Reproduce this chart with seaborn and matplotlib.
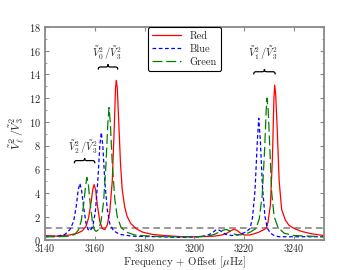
import numpy as np
import pandas as pd
import matplotlib
matplotlib.use("Agg")
import matplotlib.pyplot as plt
import seaborn as sns
from matplotlib.path import Path
from matplotlib.patches import PathPatch
from matplotlib.ticker import MultipleLocator

## curves (frequency + offset in muHz, ratio)
red_f = [3140, 3145, 3150, 3153, 3155, 3156.5, 3157.5, 3158.5, 3159.2, 3159.7, 3160.3, 3161, 3162, 3163, 3164,
         3165, 3166, 3167, 3167.8, 3168.3, 3168.6, 3169, 3169.6, 3170.3, 3171, 3172, 3173, 3174.5, 3176.5,
         3179, 3183, 3188, 3195, 3202, 3208, 3211, 3213, 3214.5, 3215.8, 3217, 3218.5, 3220, 3222, 3224,
         3226, 3228.7, 3229.5, 3230.5, 3231.3, 3231.9, 3232.2, 3232.6, 3233.2, 3234, 3235, 3236.5, 3238,
         3240, 3243, 3247, 3252]
red_v = [0.4, 0.35, 0.45, 0.6, 0.8, 1.2, 1.9, 3.2, 4.3, 4.7, 4.3, 3.0, 1.6, 1.0, 0.9,
         1.3, 2.4, 5.0, 9.5, 12.8, 13.5, 12.9, 10.0, 6.5, 4.3, 2.8, 2.0, 1.4, 1.0,
         0.7, 0.5, 0.4, 0.3, 0.3, 0.35, 0.45, 0.6, 0.8, 0.92, 0.85, 0.6, 0.45, 0.45, 0.55,
         0.7, 1.0, 1.5, 3.0, 7.0, 12.0, 13.1, 12.3, 9.5, 5.0, 2.6, 1.7, 1.25,
         1.0, 0.75, 0.55, 0.4]

blue_f = [3140, 3145, 3148, 3150, 3151.5, 3152.5, 3153.3, 3154, 3154.7, 3155.5, 3156.5, 3157.3, 3158.2,
          3159.2, 3160.2, 3161.2, 3162, 3162.6, 3163.2, 3164, 3165, 3166, 3167.5, 3170, 3175, 3185, 3195,
          3202, 3205, 3207, 3208.5, 3209.5, 3210.8, 3212.5, 3215, 3217, 3219, 3221, 3222.3, 3223.3,
          3224.3, 3225.2, 3225.8, 3226.4, 3227.3, 3228.3, 3229.3, 3230.5, 3232, 3234, 3238, 3245, 3252]
blue_v = [0.3, 0.35, 0.5, 0.9, 1.6, 2.8, 4.2, 4.8, 4.2, 2.8, 1.4, 0.9, 0.8,
          1.2, 2.4, 5.0, 8.0, 9.1, 8.0, 5.0, 2.6, 1.4, 0.8, 0.5, 0.35, 0.3, 0.25,
          0.3, 0.4, 0.6, 0.85, 0.9, 0.75, 0.5, 0.4, 0.45, 0.55, 0.75, 1.0, 1.9,
          4.2, 8.2, 10.3, 8.6, 4.5, 2.0, 1.0, 0.6, 0.4, 0.3, 0.3, 0.3, 0.3]

green_f = [3140, 3145, 3150, 3152, 3153.5, 3154.5, 3155.5, 3156.3, 3156.8, 3157.4, 3158.2, 3159, 3159.8,
           3160.5, 3161.5, 3162.5, 3163.5, 3164.5, 3165.2, 3165.7, 3166.2, 3167, 3168, 3169, 3170.5,
           3172.5, 3176, 3182, 3190, 3200, 3205, 3208, 3210, 3211.5, 3212.8, 3214, 3215.5, 3217.5, 3220,
           3222.5, 3224.7, 3226, 3227.2, 3228.2, 3228.8, 3229.1, 3229.6, 3230.3, 3231, 3232, 3233.5,
           3236, 3240, 3246, 3252]
green_v = [0.3, 0.3, 0.35, 0.5, 0.9, 1.6, 3.0, 4.6, 5.3, 4.7, 3.0, 1.6, 0.9,
           0.75, 0.9, 1.6, 3.2, 6.5, 9.8, 11.2, 10.0, 6.5, 3.5, 2.0, 1.1,
           0.7, 0.45, 0.35, 0.3, 0.3, 0.35, 0.5, 0.7, 0.85, 0.92, 0.8, 0.55, 0.45, 0.5,
           0.7, 1.0, 1.8, 3.8, 7.8, 11.0, 12.0, 11.0, 7.5, 4.0, 2.0, 1.1,
           0.6, 0.4, 0.35, 0.3]

labels = ['Red', 'Blue', 'Green']
colors = ['r', 'b', 'g']
styles = ['-', (0, (3, 2)), (0, (8, 3))]

sns.set_style('ticks')
plt.rcParams['font.family'] = ['cmr10', 'DejaVu Serif']
plt.rcParams['mathtext.fontset'] = 'cm'
plt.rcParams['axes.formatter.use_mathtext'] = True

fig = plt.figure(figsize=(3.6, 2.7), dpi=100)
ax = fig.add_axes([0.125, 0.11, 0.775, 0.79])

for f, v, lab, c, ls in zip([red_f, blue_f, green_f], [red_v, blue_v, green_v], labels, colors, styles):
    df = pd.DataFrame({'freq': f, 'ratio': v})
    sns.lineplot(data=df, x='freq', y='ratio', color=c, linestyle=ls, lw=0.9, label=lab,
                 ax=ax, estimator=None, sort=False)

ax.axhline(1.0, color='#888888', ls=(0, (4, 2.5)), lw=1.2, zorder=0)

def brace(ax, x0, x1, y, h):
    w = x1 - x0
    verts = [(0, 0), (0, .5), (.05, .5), (.15, .5), (.35, .5),
             (.45, .5), (.5, .5), (.5, 1), (.5, .5), (.55, .5), (.65, .5),
             (.85, .5), (.95, .5), (1, .5), (1, 0)]
    verts = [(x0 + a * w, y + b * h) for a, b in verts]
    codes = [Path.MOVETO, Path.CURVE4, Path.CURVE4, Path.CURVE4, Path.LINETO,
             Path.CURVE4, Path.CURVE4, Path.CURVE4, Path.CURVE4, Path.CURVE4, Path.CURVE4,
             Path.LINETO, Path.CURVE4, Path.CURVE4, Path.CURVE4]
    ax.add_patch(PathPatch(Path(verts, codes), fill=False, lw=0.9, color='k'))

brace(ax, 3161.4, 3169.2, 14.4, 0.45)
brace(ax, 3223.8, 3232.4, 14.0, 0.45)
brace(ax, 3151.8, 3160.0, 6.5, 0.45)
ax.text(3164.8, 15.8, r'$\tilde{V}_0^2\,/\tilde{V}_3^2$', ha='center', va='center', fontsize=7.5)
ax.text(3227.5, 15.8, r'$\tilde{V}_1^2\,/\tilde{V}_3^2$', ha='center', va='center', fontsize=7.5)
ax.text(3155.3, 7.9, r'$\tilde{V}_2^2\,/\tilde{V}_3^2$', ha='center', va='center', fontsize=7.5)

ax.set_xlim(3140, 3252)
ax.set_ylim(0, 18)
ax.xaxis.set_major_locator(MultipleLocator(20))
ax.yaxis.set_major_locator(MultipleLocator(2))
ax.yaxis.set_minor_locator(MultipleLocator(1))
ax.set_xlabel(r'Frequency + Offset [$\mu$Hz]', fontsize=7.8, labelpad=0)
ax.set_ylabel(r'$\tilde{V}_\ell^2\,/\tilde{V}_3^2$', fontsize=8.5, labelpad=2)
ax.tick_params(which='both', direction='in', top=True, right=True, color='#888888', labelsize=7.5)
ax.tick_params(axis='x', pad=1.5, labelsize=7.2)
ax.tick_params(axis='y', pad=3)
ax.tick_params(which='major', length=3)
ax.tick_params(which='minor', length=1.5)
for s in ax.spines.values():
    s.set_color('#888888')
    s.set_linewidth(1.3)

leg = ax.legend(loc='upper center', fontsize=7.5, frameon=True, fancybox=True, borderaxespad=0,
                handlelength=2.8, labelspacing=0.35, borderpad=0.4)
leg.get_frame().set_edgecolor('k')
leg.get_frame().set_linewidth(0.8)
leg.get_frame().set_alpha(1)

fig.savefig('out.png', dpi=100)
